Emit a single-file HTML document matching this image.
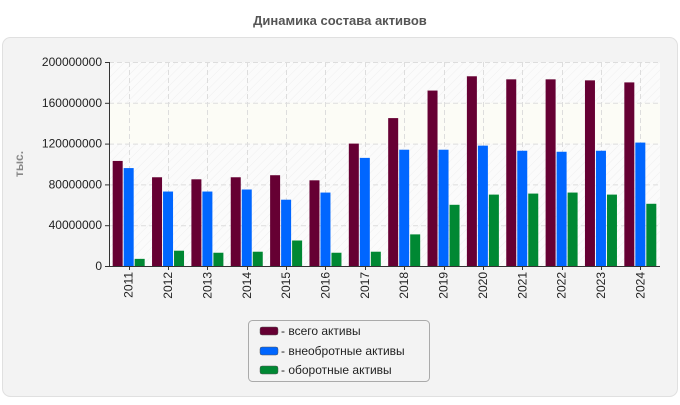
<!DOCTYPE html>
<html><head><meta charset="utf-8"><style>
body{margin:0;background:#fff;font-family:"Liberation Sans",sans-serif;}
</style></head><body>
<svg width="680" height="400" xmlns="http://www.w3.org/2000/svg" font-family="Liberation Sans, sans-serif">
<defs>
<pattern id="hatch" width="6" height="6" patternUnits="userSpaceOnUse" patternTransform="rotate(45)">
<rect width="6" height="6" fill="#fbfbfb"/><line x1="0" y1="0" x2="0" y2="6" stroke="#efefef" stroke-width="1"/>
</pattern>
</defs>
<text x="340" y="25" text-anchor="middle" font-size="13" font-weight="bold" fill="#555">Динамика состава активов</text>
<rect x="2.5" y="37.5" width="675" height="359" rx="8" fill="#f3f3f3" stroke="#e0e0e0"/>
<g id="plot"></g>
<text transform="translate(23,164) rotate(-90)" text-anchor="middle" font-size="12" font-weight="bold" fill="#888">тыс.</text>
<g>
<rect x="248.5" y="320.5" width="181" height="61" rx="4" fill="#f3f3f3" stroke="#aaa"/>
<rect x="260" y="327" width="18" height="8" rx="2" fill="#660033" stroke="#555" stroke-width="0.5"/>
<text x="281" y="335" font-size="12" fill="#222">- всего активы</text>
<rect x="260" y="347" width="18" height="8" rx="2" fill="#0066ff" stroke="#555" stroke-width="0.5"/>
<text x="281" y="355" font-size="12" fill="#222">- внеобротные активы</text>
<rect x="260" y="366" width="18" height="8" rx="2" fill="#008833" stroke="#555" stroke-width="0.5"/>
<text x="281" y="374" font-size="12" fill="#222">- оборотные активы</text>
</g>
</svg>
<script>
const categories=["2011","2012","2013","2014","2015","2016","2017","2018","2019","2020","2021","2022","2023","2024"];
const totalAssets=[103,87,85,87,89,84,120,145,172,186,183,183,182,180];
const nonCurrentAssets=[96,73,73,75,65,72,106,114,114,118,113,112,113,121];
const currentAssets=[7,15,13,14,25,13,14,31,60,70,71,72,70,61];
const yTicks=[0,40,80,120,160,200];
const yTickLabels=["0","40000000","80000000","120000000","160000000","200000000"];
const NS="http://www.w3.org/2000/svg";
const g=document.getElementById('plot');
const X0=109,X1=660,Y0=266,Y1=62;
const cw=(X1-X0)/categories.length;
const y=v=>Y0-(v/200)*(Y0-Y1);
const xc=i=>X0+cw*(i+0.5);
function mk(t,a){const e=document.createElementNS(NS,t);for(const k in a)e.setAttribute(k,a[k]);g.appendChild(e);return e;}
let e=mk('rect',{x:X0,y:Y1,width:X1-X0,height:Y0-Y1,fill:'url(#hatch)'});


e=mk('rect',{x:X0,y:y(160),width:X1-X0,height:y(120)-y(160),fill:'#fcfcf6'});


yTicks.forEach((t,i)=>{
 if(t>0){const l=mk('line',{x1:X0,x2:X1,y1:y(t)+.5,y2:y(t)+.5,stroke:'#ddd','stroke-dasharray':'5,3'});
 
 }
 const tk=mk('line',{x1:X0-4,x2:X0,y1:y(t)+.5,y2:y(t)+.5,stroke:'#333'});
 
 
 const tx=mk('text',{x:X0-7,y:y(t)+4,'text-anchor':'end','font-size':12,fill:'#222'});
 tx.textContent=yTickLabels[i];
 
 
});
categories.forEach((c,i)=>{
 const cx=xc(i);
 const l=mk('line',{x1:Math.round(cx)+.5,x2:Math.round(cx)+.5,y1:Y1,y2:Y0,stroke:'#ddd','stroke-dasharray':'5,3'});
 
 
 const series=[[totalAssets,'#660033','bar-total'],[nonCurrentAssets,'#0066ff','bar-noncurrent'],[currentAssets,'#008833','bar-current']];
 series.forEach((s,j)=>{
  const v=s[0][i];
  const b=mk('rect',{x:cx-16+j*11,y:y(v),width:10,height:Y0-y(v),fill:s[1]});
  
  
 });
 const tk=mk('line',{x1:Math.round(cx)+.5,x2:Math.round(cx)+.5,y1:Y0,y2:Y0+4,stroke:'#333'});
 
 
 const tx=mk('text',{transform:`translate(${cx+4},${Y0+6}) rotate(-90)`,'text-anchor':'end','font-size':12,fill:'#222'});
 tx.textContent=c;
 
 
});
e=mk('line',{x1:X0+.5,x2:X0+.5,y1:Y1,y2:Y0,stroke:'#333'});


e=mk('line',{x1:X0,x2:X1,y1:Y0+.5,y2:Y0+.5,stroke:'#333'});


</script>
</body></html>
